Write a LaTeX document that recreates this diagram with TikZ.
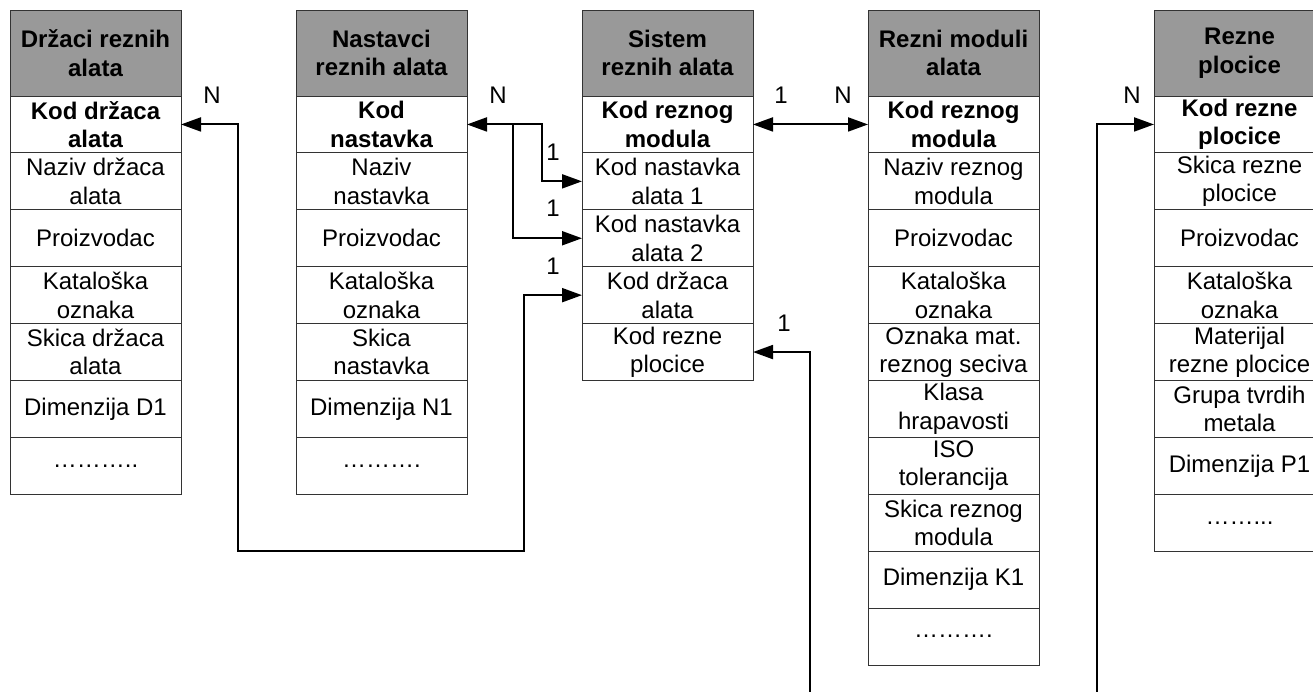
\documentclass[tikz,border=0pt]{standalone}
\usepackage{fontspec}
\setmainfont{Liberation Sans}
\usetikzlibrary{arrows.meta,calc}
\newcommand{\cellfont}{\fontsize{24}{28.5}\selectfont}
\begin{document}
\begin{tikzpicture}[x=1pt,y=-1pt,
  cell/.style={draw=black!80,line width=0.9pt,rectangle,inner sep=0pt,outer sep=0pt,
    minimum width=171pt,minimum height=56.9pt,anchor=north west,align=center,font=\cellfont},
  keycell/.style={cell,font=\cellfont\bfseries},
  hdr/.style={cell,minimum height=86pt,fill={rgb,255:red,153;green,153;blue,153},font=\cellfont\bfseries},
  conn/.style={line width=2pt,>={Triangle[length=20pt,width=14pt]}},
  lbl/.style={font=\cellfont,inner sep=0pt}]
\useasboundingbox (0,0) rectangle (1313,691);
\clip (0,0) rectangle (1313,691);
\fill[white] (0,0) rectangle (1313,691);

% Table 1
\node[hdr] (t1-0) at (10,10) {Držaci reznih\\alata};
\node[keycell] (t1-1) at (10,96) {Kod držaca\\alata};
\node[cell] (t1-2) at (10,152.9) {Naziv držaca\\alata};
\node[cell] (t1-3) at (10,209.8) {Proizvodac};
\node[cell] (t1-4) at (10,266.7) {Kataloška\\oznaka};
\node[cell] (t1-5) at (10,323.6) {Skica držaca\\alata};
\node[cell] (t1-6) at (10,380.5) {Dimenzija D1};
\node[cell] (t1-7) at (10,437.4) {………..};

% Table 2
\node[hdr] (t2-0) at (296,10) {Nastavci\\reznih alata};
\node[keycell] (t2-1) at (296,96) {Kod\\nastavka};
\node[cell] (t2-2) at (296,152.9) {Naziv\\nastavka};
\node[cell] (t2-3) at (296,209.8) {Proizvodac};
\node[cell] (t2-4) at (296,266.7) {Kataloška\\oznaka};
\node[cell] (t2-5) at (296,323.6) {Skica\\nastavka};
\node[cell] (t2-6) at (296,380.5) {Dimenzija N1};
\node[cell] (t2-7) at (296,437.4) {……….};

% Table 3
\node[hdr] (t3-0) at (582,10) {Sistem\\reznih alata};
\node[keycell] (t3-1) at (582,96) {Kod reznog\\modula};
\node[cell] (t3-2) at (582,152.9) {Kod nastavka\\alata 1};
\node[cell] (t3-3) at (582,209.8) {Kod nastavka\\alata 2};
\node[cell] (t3-4) at (582,266.7) {Kod držaca\\alata};
\node[cell] (t3-5) at (582,323.6) {Kod rezne\\plocice};

% Table 4
\node[hdr] (t4-0) at (868,10) {Rezni moduli\\alata};
\node[keycell] (t4-1) at (868,96) {Kod reznog\\modula};
\node[cell] (t4-2) at (868,152.9) {Naziv reznog\\modula};
\node[cell] (t4-3) at (868,209.8) {Proizvodac};
\node[cell] (t4-4) at (868,266.7) {Kataloška\\oznaka};
\node[cell] (t4-5) at (868,323.6) {Oznaka mat.\\reznog seciva};
\node[cell] (t4-6) at (868,380.5) {Klasa\\hrapavosti};
\node[cell] (t4-7) at (868,437.4) {ISO\\tolerancija};
\node[cell] (t4-8) at (868,494.3) {Skica reznog\\modula};
\node[cell] (t4-9) at (868,551.2) {Dimenzija K1};
\node[cell] (t4-10) at (868,608.1) {……….};

% Table 5
\node[hdr] (t5-0) at (1154,10) {Rezne\\plocice};
\node[keycell] (t5-1) at (1154,96) {Kod rezne\\plocice};
\node[cell] (t5-2) at (1154,152.9) {Skica rezne\\plocice};
\node[cell] (t5-3) at (1154,209.8) {Proizvodac};
\node[cell] (t5-4) at (1154,266.7) {Kataloška\\oznaka};
\node[cell] (t5-5) at (1154,323.6) {Materijal\\rezne plocice};
\node[cell] (t5-6) at (1154,380.5) {Grupa tvrdih\\metala};
\node[cell] (t5-7) at (1154,437.4) {Dimenzija P1};
\node[cell] (t5-8) at (1154,494.3) {……...};

% Connectors
\coordinate (j1) at ($(t2-1.east)+(75,0)$);
\coordinate (j2) at ($(t2-1.east)+(46,0)$);
\draw[conn,<->] (t2-1.east) -- (j1) |- (t3-2.west);
\draw[conn,->] (j2) |- (t3-3.west);

\coordinate (c1) at (238,551);
\coordinate (c2) at (524,551);
\draw[conn,<->] (t1-1.east) -| (c1) -- (c2) |- (t3-4.west);

\draw[conn,<->] (t3-1.east) -- (t4-1.west);

\coordinate (d1) at (810,740);
\coordinate (d2) at (1097,740);
\draw[conn,<->] (t3-5.east) -| (d1) -- (d2) |- (t5-1.west);

% Labels
\node[lbl] (l1) at (212,95) {N};
\node[lbl] (l2) at (498,95) {N};
\node[lbl] (l3) at (553,152) {1};
\node[lbl] (l4) at (553,208) {1};
\node[lbl] (l5) at (553,266) {1};
\node[lbl] (l6) at (781,95) {1};
\node[lbl] (l7) at (843,95) {N};
\node[lbl] (l8) at (784,323) {1};
\node[lbl] (l9) at (1132,95) {N};
\end{tikzpicture}
\end{document}
